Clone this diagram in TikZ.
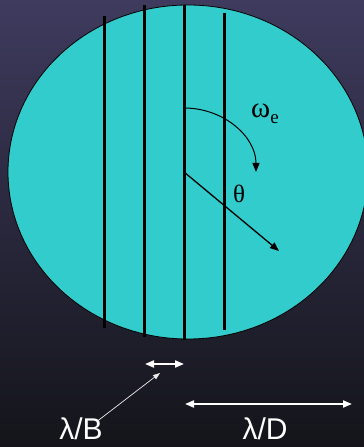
\documentclass[tikz,border=0pt]{standalone}
\usepackage{fontspec}
\setmainfont{Liberation Serif}
\newfontfamily\labelfont{Liberation Sans}
\usetikzlibrary{arrows.meta}
\definecolor{bgtop}{RGB}{62,59,94}
\definecolor{bgbot}{RGB}{20,20,26}
\definecolor{disk}{RGB}{51,204,204}

\begin{document}
\begin{tikzpicture}[x=1pt,y=1pt,>={Triangle[length=9pt,width=7pt]}]
  \useasboundingbox (0,0) rectangle (364,447);
  \shade[top color=bgtop,bottom color=bgbot] (0,0) rectangle (364,447);
  % the disk
  \begin{scope}
    \clip (0,0) rectangle (364,447);
    \filldraw[fill=disk,draw=black,line width=0.8pt] (188,275) ellipse [x radius=180,y radius=167];
  \end{scope}
  % fringes
  \foreach \x/\t/\b in {104/431/119,144/442/110,184/442/107,224/434/117}
    \draw[line width=3pt] (\x,\t) -- (\x,\b);
  \coordinate (c) at (184,275);
  \draw[->,line width=1pt] (c) ++(0,64) arc[start angle=90,end angle=0,x radius=72,y radius=64];
  \draw[->,line width=1.3pt] (c) -- (279,196);
  \node (omega) at (265,333) {\fontsize{29}{30}\selectfont ω\raisebox{-6pt}{\fontsize{19}{19}\selectfont e}};
  \node (theta) at (239,253) {\fontsize{25}{28}\selectfont θ};
  % spacings
  \coordinate (b1) at (145,83);
  \coordinate (b2) at (184,83);
  \coordinate (d1) at (185,43);
  \coordinate (d2) at (352,43);
  \draw[<->,white,line width=2pt] (b1) -- (b2);
  \draw[<->,white,line width=2pt] (d1) -- (d2);
  \node[white] (lamB) at (81,18) {\labelfont\fontsize{30}{32}\selectfont λ/B};
  \node[white] (lamD) at (265,18) {\labelfont\fontsize{30}{32}\selectfont λ/D};
  \coordinate (tip) at (160,74);
  \draw[-{Triangle[length=7pt,width=5pt]},white!85!gray,line width=0.7pt] (lamB.north east) ++(-8,-6) -- (tip);
\end{tikzpicture}
\end{document}
